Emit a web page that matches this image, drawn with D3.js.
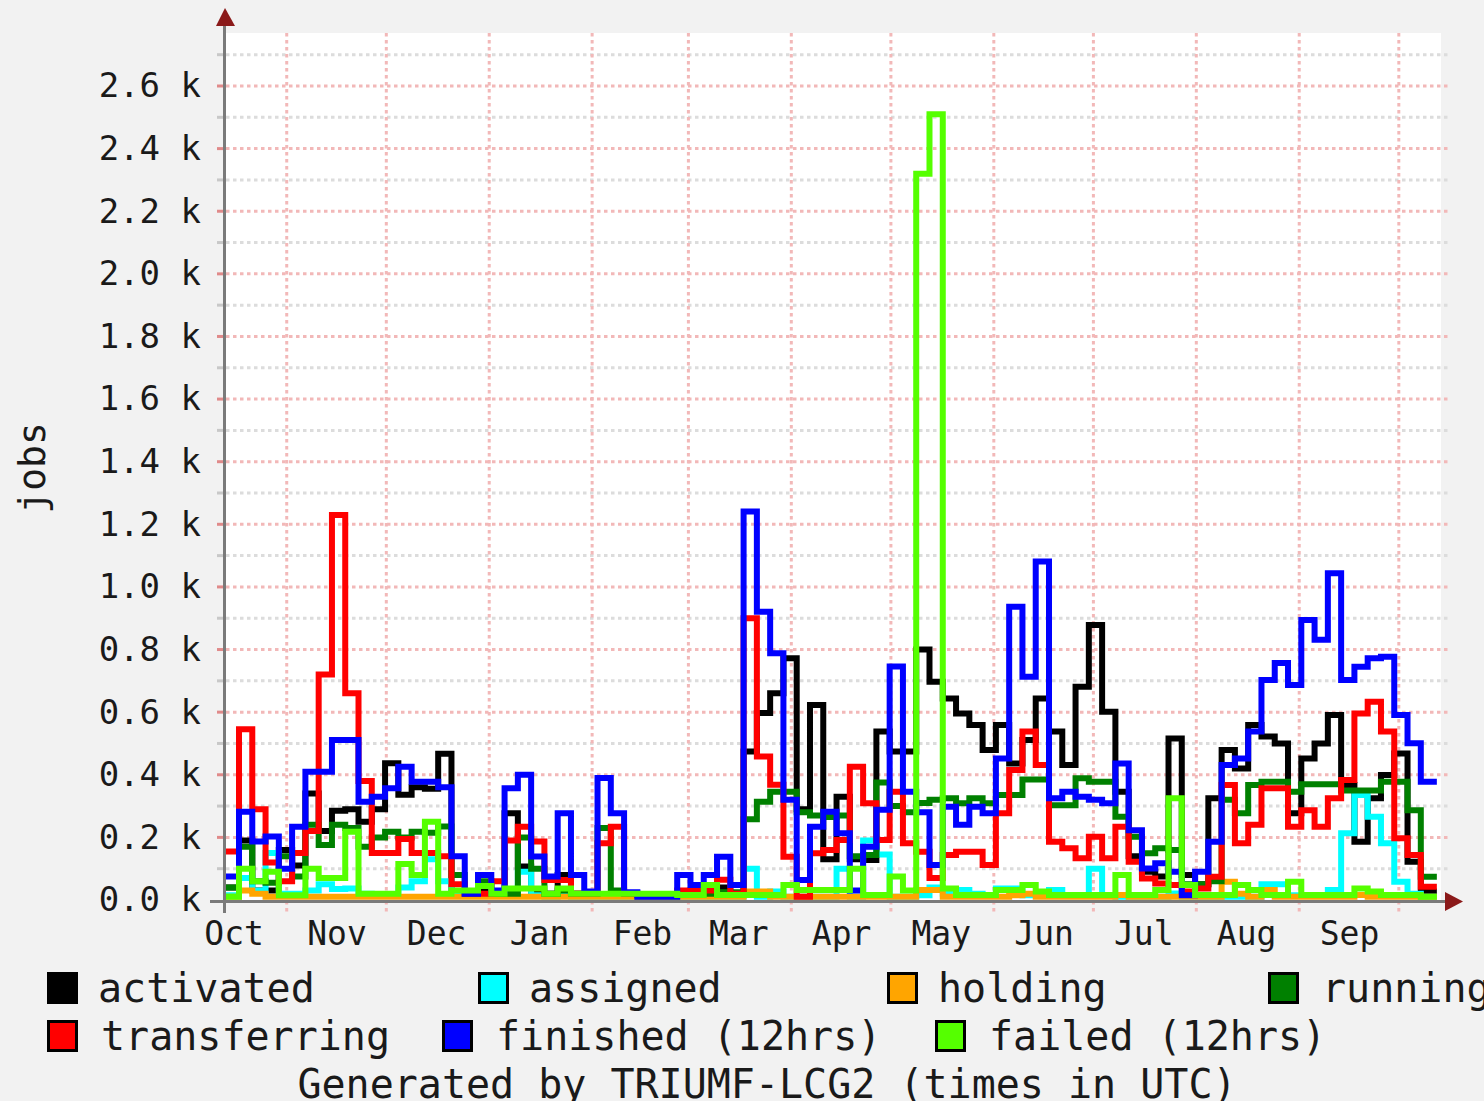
<!DOCTYPE html>
<html>
<head>
<meta charset="utf-8">
<script src="https://cdnjs.cloudflare.com/ajax/libs/d3/7.8.5/d3.min.js"></script>
<style>
body { margin: 0; background: #f2f2f2; }
svg { display: block; }
</style>
</head>
<body>
<script>
// ---- data (jobs, one value per 4-day step) ----
var seriesNames = ["activated", "assigned", "holding", "running", "transferring", "finished (12hrs)", "failed (12hrs)"];
var seriesColors = ["#000000", "#00ffff", "#ffa500", "#008000", "#ff0000", "#0000ff", "#55ff00"];

var activated = [40,190,30,30,160,110,340,220,285,290,250,290,437,336,360,355,467,20,20,30,
  20,277,107,20,20,80,20,15,15,15,15,10,10,10,20,20,20,40,15,474,
  597,660,772,290,623,130,330,130,128,538,474,474,800,697,644,596,559,479,559,436,
  511,644,538,431,681,878,601,346,140,90,75,516,80,50,325,479,420,559,522,500,
  277,452,500,591,367,186,325,399,468,122,27,27];
var assigned = [15,70,30,150,20,20,30,50,35,37,20,15,15,40,60,130,60,20,15,15,
  15,15,90,15,10,15,10,10,10,10,10,10,10,10,10,10,10,10,10,100,
  10,27,10,10,10,10,100,10,190,145,10,10,15,40,20,32,20,15,37,37,
  15,15,32,15,15,100,15,10,10,10,10,21,10,10,10,10,10,10,50,50,
  15,15,15,32,213,335,266,181,58,20,10,10];
var holding = [10,30,20,10,10,10,10,10,10,10,10,10,10,10,10,10,10,10,10,10,
  10,10,10,10,10,10,10,10,10,10,10,10,10,10,10,10,10,10,10,27,
  27,10,10,10,10,10,10,10,10,10,10,10,32,32,10,10,10,10,10,15,
  20,10,10,10,10,10,10,16,10,10,10,10,10,10,10,58,20,10,32,10,
  10,10,10,10,10,16,10,10,10,10,10,10];
var running = [40,170,60,55,140,75,240,176,240,230,170,200,218,200,218,215,235,80,20,60,
  20,20,200,100,20,30,20,20,230,30,20,15,15,15,20,20,20,25,25,258,
  314,346,346,280,270,265,270,140,144,375,300,280,310,320,325,309,325,309,335,335,
  385,385,303,303,389,378,378,266,202,149,165,160,50,50,60,320,277,367,378,378,
  346,370,370,370,350,350,350,378,378,287,74,74];
var transferring = [155,545,290,120,60,150,220,720,1230,660,380,150,150,195,150,150,140,50,20,20,
  60,190,234,187,64,64,20,20,181,234,20,15,15,15,30,30,30,65,20,900,
  458,368,138,10,149,160,192,426,309,192,346,181,154,70,144,154,154,112,277,415,
  538,431,186,165,133,202,133,234,122,69,53,48,27,37,74,367,181,240,357,357,
  234,287,234,325,383,596,633,538,197,144,42,42];
var finished = [75,282,187,203,100,234,410,410,511,511,314,330,357,426,378,378,360,140,20,80,
  30,357,400,139,75,277,80,27,390,277,25,10,10,10,80,48,80,138,48,1241,
  921,788,320,64,234,282,213,30,170,288,746,346,280,112,298,240,298,277,452,937,
  713,1081,325,346,330,320,309,436,223,101,117,90,15,90,186,431,452,538,703,757,
  687,894,831,1044,703,745,772,777,591,501,378,378];
var failed = [10,100,60,90,15,15,100,70,70,218,20,20,20,115,80,250,20,30,30,45,
  20,37,37,37,20,37,20,20,20,20,20,20,20,20,16,16,48,16,16,16,
  16,16,48,32,32,32,32,100,16,16,75,30,2320,2510,37,16,16,16,32,32,
  48,27,16,16,16,16,16,80,16,16,32,325,48,16,16,16,48,32,16,16,
  58,16,16,16,16,37,27,16,16,16,10,10];

var yTicks = [0, 200, 400, 600, 800, 1000, 1200, 1400, 1600, 1800, 2000, 2200, 2400, 2600];
var monthLabels = ["Oct", "Nov", "Dec", "Jan", "Feb", "Mar", "Apr", "May", "Jun", "Jul", "Aug", "Sep"];
var footer = "Generated by TRIUMF-LCG2 (times in UTC)";

var allSeries = [activated, assigned, holding, running, transferring, finished, failed];

// ---- time frame ----
var t0 = new Date(Date.UTC(2007, 9, 13, 17)),
    t1 = new Date(Date.UTC(2008, 9, 13, 17)),
    stepStart = Date.UTC(2007, 9, 13, 15),
    stepMs = 4 * 24 * 3600 * 1000,
    dataEnd = new Date(Date.UTC(2008, 9, 12, 11));

var W = 1484, H = 1101;
var plot = {left: 226, right: 1441, top: 33, bottom: 900};

var x = d3.scaleUtc().domain([t0, t1]).range([plot.left, plot.right]);
var y = d3.scaleLinear().domain([0, 2600]).range([plot.bottom, 86]);

var svg = d3.select("body").append("svg")
    .attr("width", W)
    .attr("height", H)
    .style("font-family", "'DejaVu Sans Mono', monospace");

svg.append("rect").attr("width", W).attr("height", H).attr("fill", "#f2f2f2");
svg.append("rect")
    .attr("x", plot.left).attr("y", plot.top)
    .attr("width", plot.right - plot.left).attr("height", plot.bottom - plot.top)
    .attr("fill", "#ffffff");

/* grid: horizontal */
var gridVals = d3.range(100, 2800, 100);
svg.append("g").selectAll("line")
    .data(gridVals)
    .join("line")
    .attr("x1", plot.left).attr("x2", 1448)
    .attr("y1", function(d) { return y(d); })
    .attr("y2", function(d) { return y(d); })
    .attr("stroke", function(d) { return d % 200 === 0 ? "#f2b8b8" : "#dcdcdc"; })
    .attr("stroke-width", 3)
    .attr("stroke-dasharray", "3.5,3.5");
svg.append("g").selectAll("line")
    .data(gridVals)
    .join("line")
    .attr("x1", 217).attr("x2", 225)
    .attr("y1", function(d) { return y(d); })
    .attr("y2", function(d) { return y(d); })
    .attr("stroke", function(d) { return d % 200 === 0 ? "#e08a8a" : "#c8c8c8"; })
    .attr("stroke-width", 3);

/* grid: months */
var monthStarts = d3.utcMonth.range(d3.utcMonth.ceil(t0), t1);
svg.append("g").selectAll("line")
    .data(monthStarts)
    .join("line")
    .attr("x1", function(d) { return x(d); })
    .attr("x2", function(d) { return x(d); })
    .attr("y1", plot.top).attr("y2", 913)
    .attr("stroke", "#f2b8b8")
    .attr("stroke-width", 3)
    .attr("stroke-dasharray", "3.5,3.5");

/* axes lines */
svg.append("line")
    .attr("x1", 210).attr("x2", 1448)
    .attr("y1", 901.5).attr("y2", 901.5)
    .attr("stroke", "#7a7a7a").attr("stroke-width", 3);
svg.append("line")
    .attr("x1", 224.5).attr("x2", 224.5)
    .attr("y1", 24).attr("y2", 913)
    .attr("stroke", "#7a7a7a").attr("stroke-width", 3);
svg.append("path").attr("d", "M225,8L216,26L235,26Z").attr("fill", "#8b1a1a");
svg.append("path").attr("d", "M1463,901.5L1445,892L1445,911Z").attr("fill", "#8b1a1a");

/* series */
function stepPoints(vals) {
    var pts = vals.map(function(v, i) {
        var t = new Date(stepStart + i * stepMs);
        if (t < t0) t = t0;
        return [t, v];
    });
    pts.push([dataEnd, vals[vals.length - 1]]);
    return pts;
}

var line = d3.line()
    .x(function(d) { return x(d[0]); })
    .y(function(d) { return y(d[1]); })
    .curve(d3.curveStepAfter);

svg.append("g").selectAll("path")
    .data(allSeries)
    .join("path")
    .attr("d", function(d) { return line(stepPoints(d)); })
    .attr("fill", "none")
    .attr("stroke", function(d, i) { return seriesColors[i]; })
    .attr("stroke-width", 6)
    .attr("stroke-linejoin", "miter");

/* y axis labels */
var yAxis = d3.axisLeft(y)
    .tickValues(yTicks)
    .tickSize(0)
    .tickPadding(25)
    .tickFormat(function(d) { return (d / 1000).toFixed(1) + " k"; });
var gy = svg.append("g").attr("transform", "translate(" + plot.left + ",0)").call(yAxis);
gy.select(".domain").remove();
gy.selectAll("text")
    .attr("font-family", "'DejaVu Sans Mono', monospace")
    .attr("font-size", 34)
    .attr("fill", "#1a1a1a")
    .attr("dy", "0.35em")
    .attr("y", -1);

/* x axis labels, mid month */
var mids = monthStarts.map(function(d) { return d3.utcDay.offset(d3.utcMonth.offset(d, -1), 15); });
mids.push(d3.utcDay.offset(monthStarts[monthStarts.length - 1], 15));
mids = mids.filter(function(d) { return d >= t0 && d <= t1; }).slice(0, monthLabels.length);
var xAxis = d3.axisBottom(x)
    .tickValues(mids)
    .tickSize(0)
    .tickFormat(function(d, i) { return monthLabels[i]; });
var gx = svg.append("g").attr("transform", "translate(0," + plot.bottom + ")").call(xAxis);
gx.select(".domain").remove();
gx.selectAll("text")
    .attr("font-family", "'DejaVu Sans Mono', monospace")
    .attr("font-size", 33)
    .attr("fill", "#1a1a1a")
    .attr("y", 33)
    .attr("dy", "0.35em");

/* y title */
svg.append("text")
    .attr("transform", "translate(32,468) rotate(-90)")
    .attr("text-anchor", "middle")
    .attr("dy", "0.35em")
    .attr("font-size", 38)
    .attr("fill", "#1a1a1a")
    .text("jobs");

/* legend */
var legendRows = [[0, 1, 2, 3], [4, 5, 6]];
var legendX = [[47, 478, 887, 1268], [47, 442, 935]];
var legendY = [988, 1036];
legendRows.forEach(function(row, r) {
    var g = svg.append("g");
    var items = g.selectAll("g").data(row).join("g")
        .attr("transform", function(d, i) { return "translate(" + legendX[r][i] + "," + legendY[r] + ")"; });
    items.append("rect")
        .attr("x", 1.5).attr("y", -14.5)
        .attr("width", 28).attr("height", 29)
        .attr("fill", function(d) { return seriesColors[d]; })
        .attr("stroke", "#000").attr("stroke-width", 3);
    items.append("text")
        .attr("x", function(d, i) { return r === 0 && i < 3 ? 51 : 54; })
        .attr("dy", "0.35em")
        .attr("font-size", 40)
        .attr("fill", "#1a1a1a")
        .text(function(d) { return seriesNames[d]; });
});

svg.append("text")
    .attr("x", 767).attr("y", 1084)
    .attr("text-anchor", "middle")
    .attr("dy", "0.35em")
    .attr("font-size", 40)
    .attr("fill", "#1a1a1a")
    .text(footer);
</script>
</body>
</html>
